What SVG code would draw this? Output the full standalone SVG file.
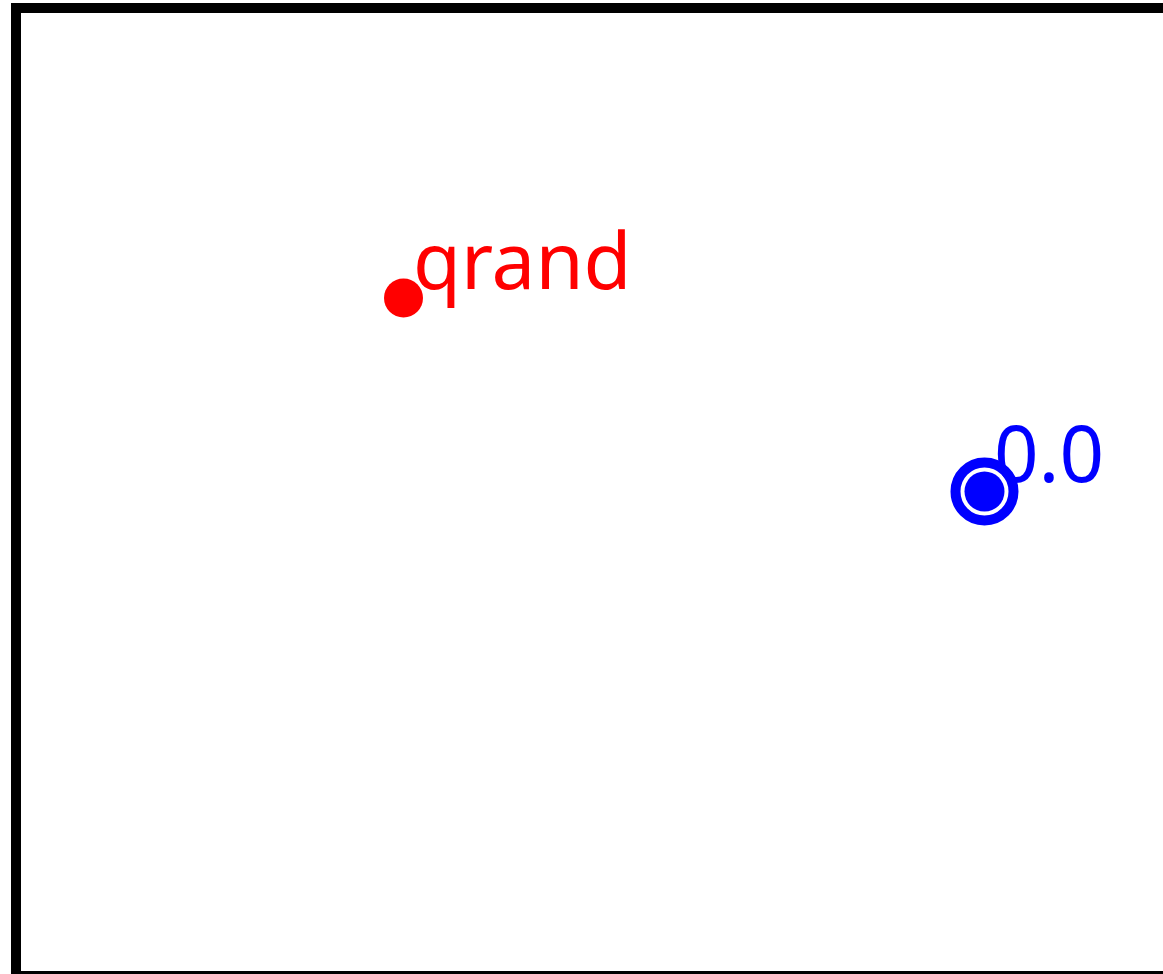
<svg xmlns="http://www.w3.org/2000/svg" width="1163" height="974" viewBox="0 0 1163 974">
<style>
.lbl{font-family:"Noto Sans","Open Sans",sans-serif;font-size:78px}
</style>
<rect x="0" y="0" width="1163" height="974" fill="#fff"/>
<rect id="frame" x="16" y="8" width="1160" height="968" fill="none" stroke="#000" stroke-width="10"/>
<g id="qrand">
<circle cx="403.5" cy="298" r="19.5" fill="#f00"/>
<text class="lbl" x="413" y="289" fill="#f00">qrand</text>
</g>
<g id="node0">
<circle cx="984.5" cy="491.5" r="29" fill="#fff" stroke="#00f" stroke-width="10"/>
<circle cx="984.5" cy="491.5" r="20" fill="#00f"/>
<text class="lbl" x="994" y="482" fill="#00f">0.0</text>
</g>
<g id="connectors"/>
</svg>
